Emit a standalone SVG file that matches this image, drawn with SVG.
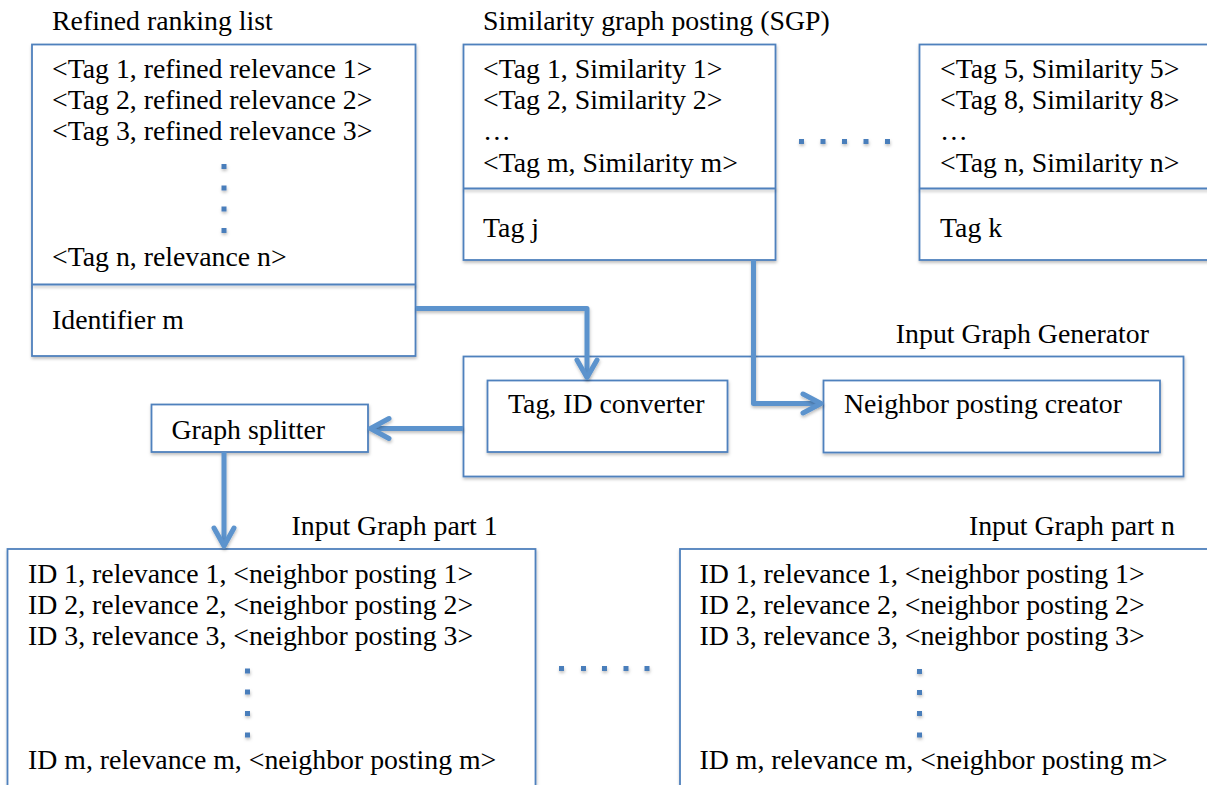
<svg xmlns="http://www.w3.org/2000/svg" width="1207" height="785" viewBox="0 0 1207 785">
  <defs>
    <style>
      .box { fill: #ffffff; stroke: #4f81bd; stroke-width: 1.8; filter: url(#shade); }
      .rule { stroke: #4f81bd; stroke-width: 1.8; filter: url(#shade); }
      .txt { font-family: "Liberation Serif", "Times New Roman", serif; font-size: 27.8px; fill: #000000; }
      .end { text-anchor: end; }
      .wire { fill: none; stroke: #5b93cd; stroke-width: 5; stroke-linejoin: round; filter: url(#shade); }
      .head { fill: none; stroke: #5b93cd; stroke-width: 5; stroke-linecap: round; stroke-linejoin: round; filter: url(#shade); }
      .dot { fill: #4a7ebb; filter: url(#shade); }
    </style>
    <filter id="shade" filterUnits="userSpaceOnUse" x="0" y="0" width="1207" height="785">
      <feDropShadow dx="0.5" dy="2" stdDeviation="1.5" flood-color="#000000" flood-opacity="0.25"/>
    </filter>
  </defs>

  <!-- Refined ranking list -->
  <g id="refined-ranking-list">
    <text class="txt" x="52" y="30">Refined ranking list</text>
    <rect class="box" x="32" y="44.5" width="383.5" height="311.5"/>
    <line class="rule" x1="32" y1="284.5" x2="415.5" y2="284.5"/>
    <text class="txt" x="52" y="78">&lt;Tag 1, refined relevance 1&gt;</text>
    <text class="txt" x="52" y="109">&lt;Tag 2, refined relevance 2&gt;</text>
    <text class="txt" x="52" y="140">&lt;Tag 3, refined relevance 3&gt;</text>
    <rect class="dot" x="221.5" y="164" width="5" height="5"/>
    <rect class="dot" x="221.5" y="185.5" width="5" height="5"/>
    <rect class="dot" x="221.5" y="206.5" width="5" height="5"/>
    <rect class="dot" x="221.5" y="228" width="5" height="5"/>
    <text class="txt" x="52" y="266">&lt;Tag n, relevance n&gt;</text>
    <text class="txt" x="52" y="329">Identifier m</text>
  </g>

  <!-- Similarity graph posting for tag j -->
  <g id="sgp-tag-j">
    <text class="txt" x="483" y="30">Similarity graph posting (SGP)</text>
    <rect class="box" x="463.5" y="44.5" width="312" height="215.5"/>
    <line class="rule" x1="463.5" y1="188.5" x2="775.5" y2="188.5"/>
    <text class="txt" x="483" y="78">&lt;Tag 1, Similarity 1&gt;</text>
    <text class="txt" x="483" y="109">&lt;Tag 2, Similarity 2&gt;</text>
    <text class="txt" x="483" y="140">…</text>
    <text class="txt" x="483" y="172">&lt;Tag m, Similarity m&gt;</text>
    <text class="txt" x="483" y="237">Tag j</text>
  </g>

  <!-- ellipsis between postings -->
  <g id="sgp-ellipsis">
    <rect class="dot" x="799" y="139" width="5" height="5"/>
    <rect class="dot" x="820.5" y="139" width="5" height="5"/>
    <rect class="dot" x="842" y="139" width="5" height="5"/>
    <rect class="dot" x="863.5" y="139" width="5" height="5"/>
    <rect class="dot" x="885" y="139" width="5" height="5"/>
  </g>

  <!-- Similarity graph posting for tag k -->
  <g id="sgp-tag-k">
    <rect class="box" x="919.5" y="44.5" width="300" height="215.5"/>
    <line class="rule" x1="919.5" y1="188.5" x2="1219.5" y2="188.5"/>
    <text class="txt" x="940" y="78">&lt;Tag 5, Similarity 5&gt;</text>
    <text class="txt" x="940" y="109">&lt;Tag 8, Similarity 8&gt;</text>
    <text class="txt" x="940" y="140">…</text>
    <text class="txt" x="940" y="172">&lt;Tag n, Similarity n&gt;</text>
    <text class="txt" x="940" y="237">Tag k</text>
  </g>

  <!-- Input Graph Generator -->
  <g id="input-graph-generator">
    <text class="txt end" x="1149" y="342.5">Input Graph Generator</text>
    <rect class="box" x="463.5" y="356.5" width="720" height="120"/>
  </g>

  <g id="tag-id-converter">
    <rect class="box" x="487.5" y="380.5" width="240" height="71.5"/>
    <text class="txt" x="508" y="413">Tag, ID converter</text>
  </g>

  <g id="neighbor-posting-creator">
    <rect class="box" x="823.5" y="380.5" width="336.5" height="72"/>
    <text class="txt" x="844" y="413">Neighbor posting creator</text>
  </g>

  <g id="graph-splitter">
    <rect class="box" x="151.5" y="404.5" width="216.5" height="47.5"/>
    <text class="txt" x="171.5" y="439">Graph splitter</text>
  </g>

  <!-- Input Graph part 1 -->
  <g id="input-graph-part-1">
    <text class="txt" x="291.5" y="535">Input Graph part 1</text>
    <rect class="box" x="7.5" y="549" width="528" height="260"/>
    <text class="txt" x="28" y="582.5">ID 1, relevance 1, &lt;neighbor posting 1&gt;</text>
    <text class="txt" x="28" y="613.5">ID 2, relevance 2, &lt;neighbor posting 2&gt;</text>
    <text class="txt" x="28" y="644.5">ID 3, relevance 3, &lt;neighbor posting 3&gt;</text>
    <rect class="dot" x="245" y="668.5" width="5" height="5"/>
    <rect class="dot" x="245" y="689.5" width="5" height="5"/>
    <rect class="dot" x="245" y="711" width="5" height="5"/>
    <rect class="dot" x="245" y="732.5" width="5" height="5"/>
    <text class="txt" x="28" y="769">ID m, relevance m, &lt;neighbor posting m&gt;</text>
  </g>

  <!-- ellipsis between graph parts -->
  <g id="part-ellipsis">
    <rect class="dot" x="559" y="666" width="5" height="5"/>
    <rect class="dot" x="581" y="666" width="5" height="5"/>
    <rect class="dot" x="602" y="666" width="5" height="5"/>
    <rect class="dot" x="623.5" y="666" width="5" height="5"/>
    <rect class="dot" x="644.5" y="666" width="5" height="5"/>
  </g>

  <!-- Input Graph part n -->
  <g id="input-graph-part-n">
    <text class="txt end" x="1175" y="535">Input Graph part n</text>
    <rect class="box" x="680" y="549" width="540" height="260"/>
    <text class="txt" x="699.5" y="582.5">ID 1, relevance 1, &lt;neighbor posting 1&gt;</text>
    <text class="txt" x="699.5" y="613.5">ID 2, relevance 2, &lt;neighbor posting 2&gt;</text>
    <text class="txt" x="699.5" y="644.5">ID 3, relevance 3, &lt;neighbor posting 3&gt;</text>
    <rect class="dot" x="917" y="669" width="5" height="5"/>
    <rect class="dot" x="917" y="690" width="5" height="5"/>
    <rect class="dot" x="917" y="711" width="5" height="5"/>
    <rect class="dot" x="917" y="732.5" width="5" height="5"/>
    <text class="txt" x="699.5" y="769">ID m, relevance m, &lt;neighbor posting m&gt;</text>
  </g>

  <!-- Connectors -->
  <g id="connectors">
    <!-- identifier to Tag, ID converter -->
    <path class="wire" d="M416 308.5 H587 V377"/>
    <path class="head" d="M577 360 L587 377.5 L597 360"/>
    <!-- tag j posting to neighbor posting creator -->
    <path class="wire" d="M753.5 260 V403.5 H820"/>
    <path class="head" d="M803 394 L821 403.5 L803 413"/>
    <!-- generator to graph splitter -->
    <path class="wire" d="M463 428.5 H372"/>
    <path class="head" d="M389 418.5 L370.5 428.5 L389 438.5"/>
    <!-- graph splitter to part 1 -->
    <path class="wire" d="M224 452 V545"/>
    <path class="head" d="M214 528 L224 546 L234 528"/>
  </g>
</svg>
